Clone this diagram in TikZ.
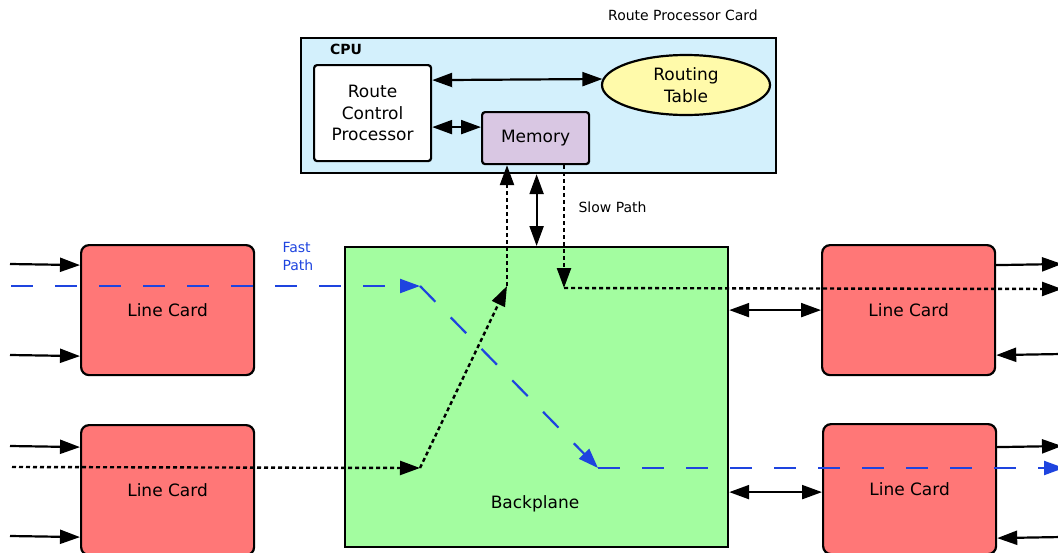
\documentclass[tikz,border=0pt]{standalone}
\usepackage{fontspec}
\setmainfont{DejaVu Sans}
\usetikzlibrary{arrows.meta,shapes.geometric}
\definecolor{cardblue}{HTML}{D3F0FC}
\definecolor{rtyellow}{HTML}{FFFAAA}
\definecolor{memlav}{HTML}{D9C7E3}
\definecolor{bpgreen}{HTML}{A3FDA0}
\definecolor{lcred}{HTML}{FF7777}
\definecolor{fastblue}{HTML}{1E44DF}
\begin{document}
\begin{tikzpicture}[x=1pt,y=-1pt,
  box/.style={draw, line width=2.2pt, inner sep=0pt, anchor=north west},
  big/.style={font=\fontsize{17}{21.5}\selectfont},
  small/.style={font=\fontsize{14}{18}\selectfont},
  tip/.style={-{Triangle[length=20pt,width=14pt]}},
  bitip/.style={{Triangle[length=20pt,width=14pt]}-{Triangle[length=20pt,width=14pt]}},
  conn/.style={line width=2.2pt},
  dotline/.style={line width=2.4pt, dash pattern=on 4pt off 3pt},
  fastline/.style={line width=2.2pt, draw=fastblue, dash pattern=on 22pt off 22pt},
  linecard/.style={box, fill=lcred, rounded corners=8pt, minimum width=173pt, minimum height=130pt, big},
]
\useasboundingbox (0,0) rectangle (1058,552);

% Route processor card
\node[box, fill=cardblue, minimum width=475pt, minimum height=135pt] (rpc) at (300,37) {};
\node[small] (rpclabel) at (683,15) {Route Processor Card};
\node[font=\fontsize{14}{18}\selectfont\bfseries] (cpu) at (346,49) {CPU};
\node[box, fill=white, rounded corners=3pt, minimum width=117pt, minimum height=96pt, big, align=center] (rcp) at (313,64) {Route\\Control\\Processor};
\node[box, fill=memlav, rounded corners=3pt, minimum width=107pt, minimum height=52pt, big] (mem) at (481,111) {Memory};
\node[draw, line width=2.2pt, ellipse, fill=rtyellow, inner sep=0pt, minimum width=168pt, minimum height=60pt, big, align=center] (rt) at (686,85) {Routing\\Table};

\draw[conn,bitip] ([yshift=33pt]rcp.east) -- ([yshift=6pt,xshift=1.5pt]rt.west);
\draw[conn,bitip] ([yshift=-14pt]rcp.east) -- ([yshift=11pt]mem.west);

% Backplane
\node[box, fill=bpgreen, minimum width=383pt, minimum height=300pt] (bp) at (344,246) {};
\node[big] (bplabel) at (535,504) {Backplane};

% Line cards
\node[linecard] (lc1) at (80,244) {Line Card};
\node[linecard] (lc2) at (80,424) {Line Card};
\node[linecard] (lc3) at (821,244) {Line Card};
\node[linecard] (lc4) at (822,423) {Line Card};

% external arrows
\draw[conn,tip] (10,264) -- ([yshift=45pt]lc1.west);
\draw[conn,tip] (10,355) -- ([yshift=-46pt]lc1.west);
\draw[conn,tip] (10,446) -- ([yshift=43pt]lc2.west);
\draw[conn,tip] (10,536) -- ([yshift=-47pt]lc2.west);
\draw[conn,tip] ([yshift=45pt]lc3.east) -- (1062,264);
\draw[conn,tip] (1062,354) -- ([yshift=-45pt]lc3.east);
\draw[conn,tip] ([yshift=42pt]lc4.east) -- (1062,446);
\draw[conn,tip] (1062,537) -- ([yshift=-49pt]lc4.east);

% backplane links
\draw[conn,bitip] (rpc.south -| bp.north) -- (bp.north);
\draw[conn,bitip] (bp.east |- lc3.west) -- (lc3.west);
\draw[conn,bitip] ([yshift=-3pt]bp.east |- lc4.west) -- ([yshift=-3pt]lc4.west);

% labels
\node[small, anchor=west] (slowlabel) at (575,207) {Slow Path};
\node[small, anchor=west, align=left, text=fastblue] (fastlabel) at (279,256) {Fast\\Path};

% dotted paths
\coordinate (s0) at (12,467);
\coordinate (s1) at (420,468);
\coordinate (s2) at (507,286);
\draw[dotline,tip] (s0) -- (s1);
\draw[dotline,tip] (s1) -- (s2);
\draw[dotline,tip] (s2) -- (s2 |- mem.south);
\coordinate (p1) at (564,288);
\coordinate (p2) at (1062,289);
\draw[dotline,tip] (p1 |- mem.south) -- (p1);
\draw[dotline,tip] (p1) -- (p2);

% fast path
\coordinate (f0) at (11,286);
\coordinate (f1) at (420,286);
\coordinate (f2) at (598,468);
\coordinate (f3) at (1064,468);
\draw[fastline,tip] (f0) -- (f1);
\draw[fastline,tip] (f1) -- (f2);
\draw[fastline,tip] (f2) -- (f3);
\end{tikzpicture}
\end{document}
